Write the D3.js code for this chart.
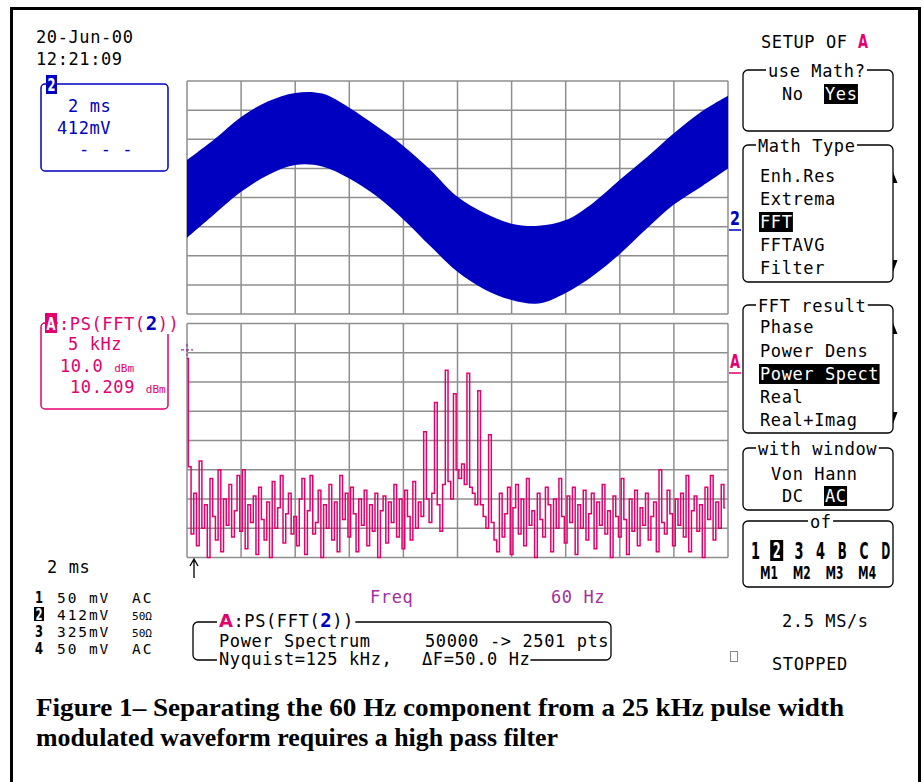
<!DOCTYPE html>
<html>
<head>
<meta charset="utf-8">
<script src="https://cdn.jsdelivr.net/npm/d3@7"></script>
<style>
body { margin: 0; background: #fff; }
svg text { font-family: "DejaVu Sans Mono", monospace; font-size: 17px; letter-spacing: 0.6px; }
svg text.tall { font-family: "DejaVu Sans", sans-serif; font-weight: bold; letter-spacing: 0; }
svg text.small { font-size: 11px; letter-spacing: 0; }
svg text.row { font-size: 14.5px; letter-spacing: 1.9px; }
svg text.caption { font-family: "Liberation Serif", "Times New Roman", serif; font-weight: bold; font-size: 25px; letter-spacing: 0; }
.grid { stroke: #8e8e8e; stroke-width: 1.5; fill: none; }
.box { fill: none; stroke: #000; stroke-width: 1.3; }
</style>
</head>
<body>
<svg id="scope" width="923" height="782"></svg>
<script>

/////////////////////////////////////////////////////////////////////
// channel 2 : 2 ms/div, 412 mV/div, envelope of the PWM band (V)
const timeMs = [0, 1, 2, 3, 4, 5, 6, 7, 8, 9, 10, 11, 12, 13, 14, 15, 16, 17, 18, 19, 20];
const bandUpperV = [0.53, 0.82, 1.14, 1.36, 1.48, 1.47, 1.27, 1.01, 0.73, 0.39, 0.01,
                    -0.22, -0.37, -0.40, -0.32, -0.08, 0.25, 0.57, 0.91, 1.21, 1.44];
const bandLowerV = [-0.57, -0.24, 0.08, 0.32, 0.46, 0.44, 0.27, 0.02, -0.31, -0.69, -1.05,
                    -1.30, -1.45, -1.50, -1.35, -1.11, -0.80, -0.44, -0.10, 0.15, 0.41];

// math A : power spectrum of channel 2, 5 kHz/div, 10 dBm/div
const binKHz = 0.25;
const spectrumDbm = [
    -12, -49, -72, -58, -76, -47, -70, -62, -80, -53, -66, -74, -50, -78, -60, -69, -55, -73, -64, -52,
    -71, -50, -77, -62, -68, -59, -79, -56, -67, -74, -61, -80, -54, -70, -63, -52, -75, -65, -58, -72,
    -66, -76, -60, -53, -79, -64, -52, -72, -68, -57, -80, -62, -70, -55, -74, -61, -78, -52, -67, -58,
    -73, -56, -65, -78, -60, -69, -57, -76, -62, -71, -58, -80, -64, -59, -75, -61, -68, -55, -73, -60,
    -77, -57, -66, -74, -54, -70, -61, -66, -37, -60, -68, -58, -27, -62, -71, -55, -16, -54, -60, -24,
    -50, -53, -48, -55, -17, -56, -58, -62, -23, -62, -66, -70, -38, -68, -74, -78, -58, -73, -65, -56,
    -79, -63, -55, -72, -60, -76, -53, -69, -64, -80, -58, -67, -73, -56, -62, -78, -60, -70, -53, -66,
    -75, -59, -68, -56, -79, -62, -70, -57, -74, -65, -58, -77, -61, -69, -55, -72, -64, -80, -59, -66,
    -73, -53, -67, -79, -60, -71, -57, -76, -63, -69, -58, -74, -66, -61, -78, -50, -68, -72, -57, -65,
    -76, -60, -69, -58, -73, -52, -78, -64, -59, -71, -62, -80, -56, -67, -52, -74, -61, -70, -55, -63
];
const markerDbm = -9;

const voltsPerDiv = 0.412;
const msPerDiv = 2;
const kHzPerDiv = 5;
const dbmPerDiv = 10;

const chanIds = ["1", "2", "3", "4"];
const chanScales = ["50 mV", "412mV", "325mV", "50 mV"];
const chanCoupling = ["AC", "50Ω", "50Ω", "AC"];

const mathTypes = ["Enh.Res", "Extrema", "FFT", "FFTAVG", "Filter"];
const fftResults = ["Phase", "Power Dens", "Power Spect", "Real", "Real+Imag"];
const sources = ["1", "2", "3", "4", "B", "C", "D"];
const mathSources = ["M1", "M2", "M3", "M4"];
/////////////////////////////////////////////////////////////////////

var blue = "#0000c0";
var pink = "#e3006f";
var purple = "#a3309b";

var svg = d3.select("#scope");
svg.append("rect").attr("width", 923).attr("height", 782).attr("fill", "#fff");

function txt(x, y, s, color) {
    return svg.append("text")
        .attr("x", x)
        .attr("y", y)
        .attr("fill", color || "#000")
        .text(s);
};

// bold narrow glyph, the scope's channel font
function tall(x, y, s, w, size, color) {
    return svg.append("text")
        .attr("class", "tall")
        .attr("x", x)
        .attr("y", y)
        .attr("textLength", w)
        .attr("lengthAdjust", "spacingAndGlyphs")
        .style("font-size", size + "px")
        .attr("fill", color || "#000")
        .text(s);
};

// paint a block behind a text (inverse video or a gap in a frame line)
function backing(t, fill, pad) {
    var b = t.node().getBBox();
    svg.insert("rect", () => t.node())
        .attr("x", b.x - pad)
        .attr("y", b.y)
        .attr("width", b.width + 2*pad - 0.6)
        .attr("height", b.height)
        .attr("fill", fill);
};

function inverse(t, fill) {
    backing(t, fill || "#000", 1);
    t.attr("fill", "#fff");
};

// frame of the whole figure
svg.append("path")
    .attr("d", "M11.5,800 V8.5 H919.5 V800")
    .attr("fill", "none")
    .attr("stroke", "#000")
    .attr("stroke-width", 3);

// scales
var gx0 = 187, gx1 = 728;
var top0 = 81, top1 = 314;
var low0 = 323.5, low1 = 557.5;

var xTime = d3.scaleLinear([0, 10*msPerDiv], [gx0, gx1]);
var yVolt = d3.scaleLinear([-4*voltsPerDiv, 4*voltsPerDiv], [top1, top0]);
var xFreq = d3.scaleLinear([0, 10*kHzPerDiv], [gx0, gx1]);
var yDbm = d3.scaleLinear([-8*dbmPerDiv, 0], [low1, low0]);

function drawGrid(yScale, yStep) {
    var g = svg.append("g").attr("class", "grid");
    for (let i = 0; i <= 10; i++) {
        var x = xTime(i*msPerDiv);
        g.append("line")
            .attr("x1", x).attr("x2", x)
            .attr("y1", yScale.range()[1]).attr("y2", yScale.range()[0]);
    };
    var d = yScale.domain();
    for (let j = 0; j <= 8; j++) {
        var y = yScale(d[0] + j*yStep);
        g.append("line")
            .attr("x1", gx0).attr("x2", gx1)
            .attr("y1", y).attr("y2", y);
    };
};

drawGrid(yVolt, voltsPerDiv);
drawGrid(yDbm, dbmPerDiv);

// channel 2 trace
var band = d3.area()
    .x((d, i) => xTime(timeMs[i]))
    .y0((d, i) => yVolt(bandLowerV[i]))
    .y1(d => yVolt(d))
    .curve(d3.curveCatmullRom.alpha(.5));

svg.append("path")
    .attr("d", band(bandUpperV))
    .attr("fill", blue);

// spectrum trace, drawn as the scope does: vertical steps per bin
var specLine = d3.line()
    .x((d, i) => xFreq(i*binKHz))
    .y(d => yDbm(d))
    .curve(d3.curveStep);

svg.append("path")
    .attr("d", specLine(spectrumDbm))
    .attr("fill", "none")
    .attr("stroke", pink)
    .attr("stroke-width", 1.5);

// reference cursor on the spectrum
var my = yDbm(markerDbm);
svg.append("path")
    .attr("d", "M" + (gx0 - 6) + "," + my + "H" + (gx0 + 6) + "M" + gx0 + "," + (my - 6) + "V" + (my + 6))
    .attr("stroke", purple)
    .attr("stroke-width", 1.3)
    .attr("stroke-dasharray", "3,2");

// trace markers right of the grid
tall(730, 225, "2", 10, 19, blue);
svg.append("line").attr("x1", 729).attr("x2", 741).attr("y1", 230).attr("y2", 230)
    .attr("stroke", blue).attr("stroke-width", 1.5);
tall(730, 368, "A", 10, 19, pink);
svg.append("line").attr("x1", 729).attr("x2", 741).attr("y1", 373).attr("y2", 373)
    .attr("stroke", pink).attr("stroke-width", 1.5);

// time base trigger arrow
svg.append("path")
    .attr("d", "M194,578 V560 M190,566 L194,559 L198,566")
    .attr("fill", "none")
    .attr("stroke", "#000")
    .attr("stroke-width", 1.3);

// date / time
txt(36, 43, "20-Jun-00");
txt(36, 65, "12:21:09");

// channel 2 box
svg.append("rect")
    .attr("x", 41).attr("y", 84).attr("width", 127).attr("height", 87).attr("rx", 4)
    .attr("fill", "none").attr("stroke", blue).attr("stroke-width", 1.5);
svg.append("rect").attr("x", 46).attr("y", 75).attr("width", 11).attr("height", 19).attr("fill", blue);
tall(47.5, 91, "2", 8, 18, "#fff");
txt(68, 112, "2 ms", blue);
txt(57, 134, "412mV", blue);
txt(79, 155, "- - -", blue);

// math A box
svg.append("rect")
    .attr("x", 41).attr("y", 323).attr("width", 127).attr("height", 86).attr("rx", 4)
    .attr("fill", "none").attr("stroke", pink).attr("stroke-width", 1.5);
var psA = txt(59, 330, ":PS(FFT(", pink);
psA.append("tspan").attr("fill", blue).attr("font-weight", "bold").style("font-size", "19px").text("2");
psA.append("tspan").text("))");
backing(psA, "#fff", 1);
svg.append("rect").attr("x", 45).attr("y", 313).attr("width", 12).attr("height", 20).attr("fill", pink);
tall(46.5, 330, "A", 9, 18, "#fff");
txt(68, 350, "5 kHz", pink);
var rd1 = txt(60, 372, "10.0 ", pink);
rd1.append("tspan").style("font-size", "11px").style("letter-spacing", "0").text("dBm");
var rd2 = txt(70, 393, "10.209 ", pink);
rd2.append("tspan").style("font-size", "11px").style("letter-spacing", "0").text("dBm");

// channel list, bottom left
txt(47, 573, "2 ms");
const rowY = [603, 620, 637, 654];
for (let i = 0; i < chanIds.length; i++) {
    if (chanIds[i] == "2") {
        svg.append("rect").attr("x", 34).attr("y", rowY[i] - 13).attr("width", 10).attr("height", 14).attr("fill", "#000");
        tall(35.5, rowY[i] - 0.5, chanIds[i], 7, 15, "#fff");
    } else {
        tall(35, rowY[i], chanIds[i], 8, 15);
    };
    txt(57, rowY[i], chanScales[i]).attr("class", "row");
    if (chanCoupling[i] == "AC") {
        txt(132, rowY[i], chanCoupling[i]).attr("class", "row");
    } else {
        svg.append("text").attr("class", "small")
            .attr("x", 132).attr("y", rowY[i])
            .attr("textLength", 20).attr("lengthAdjust", "spacingAndGlyphs")
            .text(chanCoupling[i]);
    };
};

// frequency readout
txt(370, 603, "Freq", purple);
txt(551, 603, "60 Hz", purple);

// math definition box
svg.append("rect")
    .attr("x", 193).attr("y", 622).attr("width", 418).attr("height", 38).attr("rx", 5)
    .attr("class", "box");
var ttl = svg.append("text").attr("x", 219).attr("y", 627);
ttl.append("tspan").attr("class", "tall").attr("fill", pink).attr("font-weight", "bold")
    .style("font-family", "DejaVu Sans").style("font-size", "18px").text("A");
ttl.append("tspan").text(":PS(FFT(");
ttl.append("tspan").attr("fill", blue).attr("font-weight", "bold").style("font-size", "19px").text("2");
ttl.append("tspan").text("))");
backing(ttl, "#fff", 2);
txt(219, 647, "Power Spectrum");
txt(425, 647, "50000 -> 2501 pts");
var nyq = txt(219, 665, "Nyquist=125 kHz,");
var dF = txt(422, 665, "ΔF=50.0 Hz");
var b1 = nyq.node().getBBox(), b2 = dF.node().getBBox();
svg.insert("rect", () => nyq.node())
    .attr("x", b1.x - 2).attr("y", b1.y)
    .attr("width", b2.x + b2.width - b1.x + 2).attr("height", b1.height)
    .attr("fill", "#fff");

// setup menu
var st = txt(761, 48, "SETUP OF ");
tall(858, 48, "A", 10, 19, pink);

var px = 743, pw = 150;
function panel(y, h, title, tx) {
    svg.append("rect")
        .attr("x", px).attr("y", y).attr("width", pw).attr("height", h).attr("rx", 5)
        .attr("class", "box");
    var t = txt(tx, y + 7, title);
    backing(t, "#fff", 2);
};

function scrollMarks(yUp, yDown) {
    svg.append("path")
        .attr("d", "M893," + yUp + " L897.5," + (yUp + 11) + " L893," + (yUp + 11) + "Z"
            + " M893," + yDown + " L897.5," + yDown + " L893," + (yDown + 12) + "Z")
        .attr("fill", "#000");
};

panel(70, 61, "use Math?", 768);
txt(782, 100, "No");
inverse(txt(825, 100, "Yes"));

panel(145, 137, "Math Type", 758);
var typeY = [182, 205, 228, 251, 274];
for (let i = 0; i < mathTypes.length; i++) {
    var t = txt(760, typeY[i], mathTypes[i]);
    if (mathTypes[i] == "FFT") { inverse(t); };
};
scrollMarks(172, 260);

panel(305, 128, "FFT result", 758);
var resY = [333, 357, 380, 403, 426];
for (let i = 0; i < fftResults.length; i++) {
    var t = txt(760, resY[i], fftResults[i]);
    if (fftResults[i] == "Power Spect") { inverse(t); };
};
scrollMarks(323, 412);

panel(448, 62, "with window", 758);
txt(771, 480, "Von Hann");
txt(782, 502, "DC");
inverse(txt(825, 502, "AC"));

panel(521, 66, "of", 810);
for (let i = 0; i < sources.length; i++) {
    var sx = 751 + i*21.7;
    if (sources[i] == "2") {
        svg.append("rect").attr("x", sx - 2.5).attr("y", 540).attr("width", 13).attr("height", 21).attr("fill", "#000");
        tall(sx, 558, sources[i], 8, 21, "#fff");
    } else {
        tall(sx, 559, sources[i], 9, 23);
    };
};
for (let i = 0; i < mathSources.length; i++) {
    tall(760 + i*32.7, 579, mathSources[i], 18, 17);
};

txt(782, 627, "2.5 MS/s");
svg.append("rect").attr("x", 730.5).attr("y", 651.5).attr("width", 7).attr("height", 10)
    .attr("fill", "none").attr("stroke", "#888");
txt(772, 670, "STOPPED");

// caption
svg.append("text").attr("class", "caption")
    .attr("x", 36).attr("y", 716)
    .attr("textLength", 808).attr("lengthAdjust", "spacingAndGlyphs")
    .text("Figure 1\u2013 Separating the 60 Hz component from a 25 kHz pulse width");
svg.append("text").attr("class", "caption")
    .attr("x", 36).attr("y", 746)
    .attr("textLength", 522).attr("lengthAdjust", "spacingAndGlyphs")
    .text("modulated waveform requires a high pass filter");

</script>
</body>
</html>
